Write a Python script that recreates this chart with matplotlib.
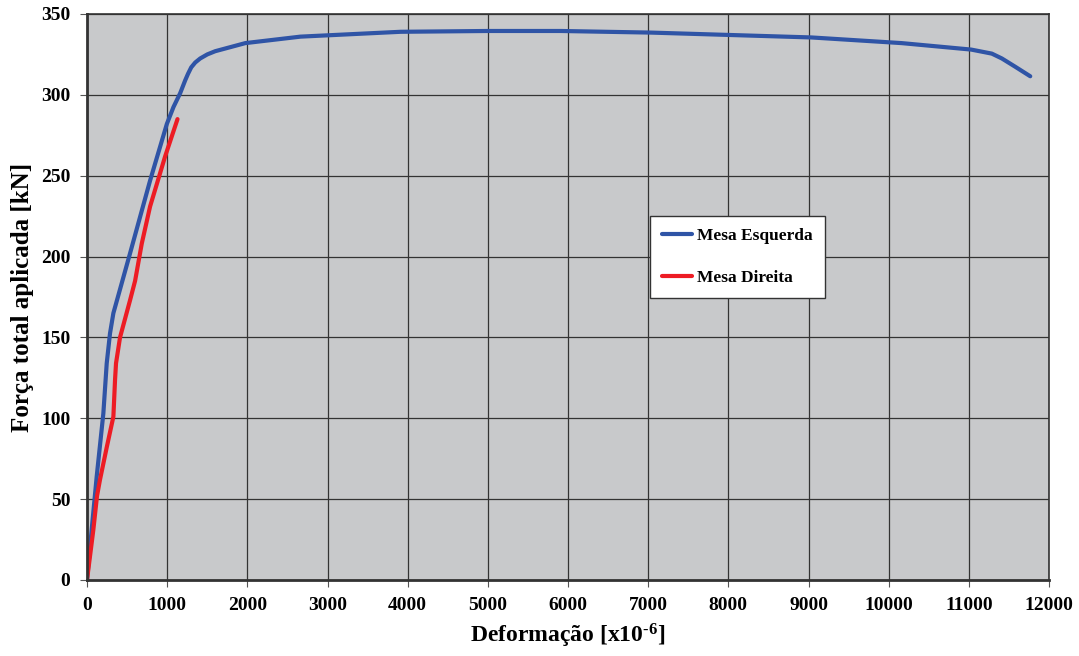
import matplotlib.pyplot as plt

# deformacao [x10^-6] e forca [kN]
esq_def = [0, 60, 121, 204, 246, 287, 329, 537, 787, 996, 1079, 1162, 1225, 1260, 1300,
           1350, 1412, 1500, 1600, 1975, 2662, 3912, 5000, 5912, 7037, 8037, 9037,
           10162, 11029, 11287, 11412, 11575, 11766]
esq_forca = [0, 32, 64, 103, 134, 152.5, 165, 202, 247, 282, 292.5, 301, 309, 313, 317,
             320, 322.5, 325, 327, 332, 336, 339, 339.5, 339.5, 338.5, 337, 335.5,
             332, 328, 325.5, 322.5, 317.5, 311.5]

dir_def = [0, 79, 125, 162, 246, 329, 350, 362, 412, 537, 600, 683, 787, 975, 1129]
dir_forca = [0, 31, 52, 62, 82, 101, 124, 134, 150, 173, 185, 208, 231, 262, 285]

xticks = list(range(0, 12001, 1000))
yticks = list(range(0, 351, 50))

plt.rcParams['font.family'] = ['Liberation Serif', 'DejaVu Serif']
plt.rcParams['font.weight'] = 'bold'
plt.rcParams['mathtext.fontset'] = 'custom'
plt.rcParams['mathtext.rm'] = 'Liberation Serif:bold'
plt.rcParams['mathtext.bf'] = 'Liberation Serif:bold'
plt.rcParams['mathtext.default'] = 'bf'

fig = plt.figure(figsize=(10.79, 6.56), dpi=100)
ax = fig.add_axes([87/1079, 76/656, 962/1079, 566/656])
ax.set_facecolor('#c8c9cb')

ax.plot(esq_def, esq_forca, color='#2f54a6', lw=3, label='Mesa Esquerda',
        solid_capstyle='round', solid_joinstyle='round')
ax.plot(dir_def, dir_forca, color='#ed1c24', lw=3, label='Mesa Direita',
        solid_capstyle='round', solid_joinstyle='round')

ax.set_xlim(0, 12000)
ax.set_ylim(0, 350)
ax.set_xticks(xticks)
ax.set_yticks(yticks)
ax.grid(True, color='#333333', lw=0.9)
ax.set_axisbelow(True)
ax.tick_params(labelsize=14, length=5, color='#555555', pad=7)
for lbl in ax.get_xticklabels() + ax.get_yticklabels():
    lbl.set_fontweight('bold')

for s in ['left', 'bottom']:
    ax.spines[s].set_linewidth(2)
    ax.spines[s].set_color('#333333')
for s in ['top', 'right']:
    ax.spines[s].set_linewidth(1.2)
    ax.spines[s].set_color('#333333')

ax.set_xlabel(r'Deformação [x10$^{\text{-6}}$]', fontsize=17, fontweight='bold', labelpad=6)
ax.set_ylabel('Força total aplicada [kN]', fontsize=18, fontweight='bold', labelpad=5)

leg = ax.legend(loc='upper left', bbox_to_anchor=(563/962, (580-216)/566), borderaxespad=0,
                fancybox=False, framealpha=1, edgecolor='#333333', handlelength=1.7,
                handletextpad=0.3, labelspacing=1.45, borderpad=0.7,
                prop={'weight': 'bold', 'size': 12.5})
leg.get_frame().set_linewidth(1)

fig.savefig('out.png', dpi=100)
